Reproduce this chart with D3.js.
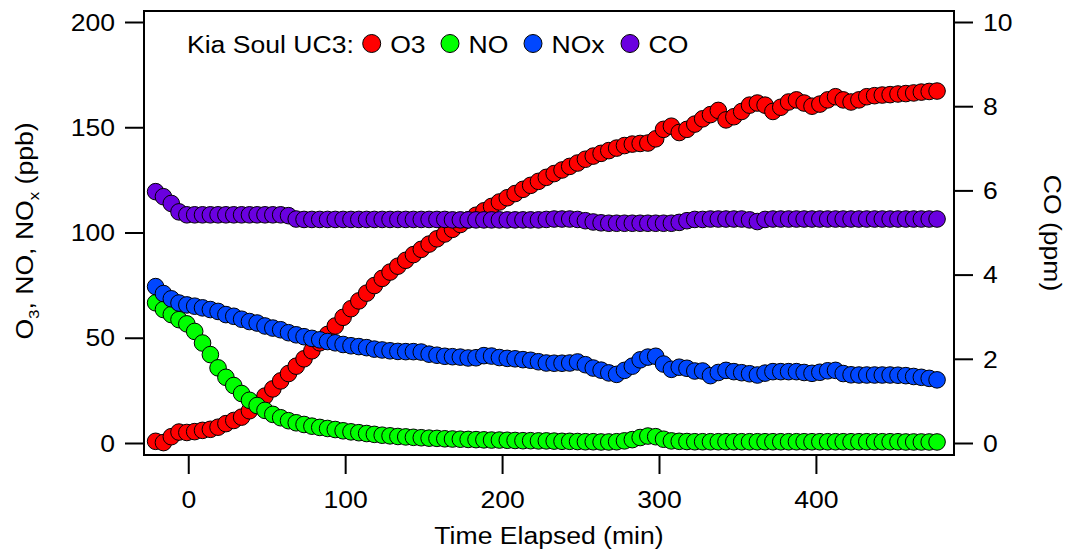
<!DOCTYPE html>
<html>
<head>
<meta charset="utf-8">
<script src="https://cdn.jsdelivr.net/npm/d3@7"></script>
<style>
  html, body { margin: 0; padding: 0; background: #fff; }
  svg { display: block; font-family: "Liberation Sans", Arial, sans-serif; }
</style>
</head>
<body>
<svg id="chart" width="1070" height="554"></svg>
<script>
// Elapsed time of each sample (min)
const timeMin = [
  -20.8, -15.8, -10.8, -5.9, -0.9, 4.1, 9.1, 14.1, 19.0, 24.0,
  29.0, 34.0, 39.0, 43.9, 48.9, 53.9, 58.9, 63.9, 68.8, 73.8,
  78.8, 83.8, 88.8, 93.7, 98.7, 103.7, 108.7, 113.7, 118.6, 123.6,
  128.6, 133.6, 138.6, 143.5, 148.5, 153.5, 158.5, 163.5, 168.4, 173.4,
  178.4, 183.4, 188.4, 193.3, 198.3, 203.3, 208.3, 213.3, 218.2, 223.2,
  228.2, 233.2, 238.2, 243.1, 248.1, 253.1, 258.1, 263.1, 268.0, 273.0,
  278.0, 283.0, 288.0, 292.9, 297.9, 302.9, 307.9, 312.9, 317.8, 322.8,
  327.8, 332.8, 337.8, 342.7, 347.7, 352.7, 357.7, 362.7, 367.6, 372.6,
  377.6, 382.6, 387.6, 392.5, 397.5, 402.5, 407.5, 412.5, 417.4, 422.4,
  427.4, 432.4, 437.4, 442.3, 447.3, 452.3, 457.3, 462.3, 467.2, 472.2,
  477.2
];

// O3 (ppb)
const o3 = [
  0.8, 0.2, 3.0, 5.2, 5.0, 5.4, 6.0, 6.5, 7.5, 9.2,
  10.7, 12.3, 15.3, 18.6, 22.3, 25.7, 29.5, 33.0, 36.5, 40.0,
  43.8, 47.6, 51.6, 55.6, 59.7, 63.8, 67.5, 71.2, 74.8, 78.2,
  81.2, 84.0, 86.8, 89.5, 92.0, 94.5, 97.0, 99.3, 101.5, 103.8,
  106.0, 108.2, 110.3, 112.4, 114.5, 116.5, 118.5, 120.5, 122.4, 124.3,
  126.2, 128.0, 129.7, 131.4, 133.0, 134.8, 136.3, 137.6, 138.9, 140.1,
  141.3, 142.0, 142.3, 142.5, 144.5, 149.0, 150.5, 147.5, 149.0, 151.5,
  154.0, 156.0, 158.0, 153.5, 155.0, 157.5, 160.5, 161.5, 160.5, 157.5,
  159.5, 162.0, 163.0, 161.5, 160.0, 161.0, 163.0, 164.5, 163.0, 162.0,
  163.0, 164.5, 165.0, 165.3, 165.5, 165.8, 166.0, 166.3, 166.7, 167.0,
  167.2
];

// NO (ppb)
const no = [
  66.6, 63.4, 61.0, 58.6, 56.6, 53.0, 47.5, 42.0, 35.7, 31.2,
  27.3, 23.5, 20.3, 17.8, 15.5, 13.6, 12.0, 10.6, 9.6, 8.8,
  8.0, 7.4, 6.9, 6.4, 5.8, 5.3, 4.9, 4.5, 4.1, 3.7,
  3.4, 3.1, 2.9, 2.7, 2.5, 2.3, 2.2, 2.0, 1.9, 1.8,
  1.7, 1.6, 1.5, 1.4, 1.4, 1.3, 1.2, 1.1, 1.1, 1.0,
  1.0, 0.9, 0.8, 0.8, 0.7, 0.6, 0.6, 0.5, 0.5, 0.6,
  1.0, 1.6, 2.6, 3.3, 3.0, 1.8, 1.0, 0.8, 0.7, 0.6,
  0.6, 0.6, 0.6, 0.6, 0.6, 0.6, 0.6, 0.6, 0.6, 0.6,
  0.6, 0.6, 0.6, 0.6, 0.6, 0.6, 0.6, 0.6, 0.6, 0.6,
  0.6, 0.6, 0.6, 0.6, 0.6, 0.6, 0.5, 0.5, 0.5, 0.5,
  0.5
];

// NOx (ppb)
const nox = [
  74.3, 71.0, 68.5, 66.5, 65.6, 65.0, 64.2, 63.4, 62.5, 61.0,
  60.2, 58.8, 57.7, 57.0, 55.6, 54.6, 53.8, 52.4, 51.4, 50.5,
  49.7, 49.0, 48.2, 47.6, 46.8, 46.2, 45.8, 45.3, 44.6, 44.2,
  43.8, 43.5, 43.4, 43.4, 43.2, 42.2, 41.7, 41.2, 41.0, 40.8,
  40.4, 40.5, 41.5, 41.3, 40.6, 40.2, 40.0, 39.6, 39.3, 38.6,
  38.0, 37.9, 37.9, 38.0, 38.5, 37.2, 35.6, 34.6, 33.3, 32.6,
  34.5, 36.5, 39.5, 40.8, 41.2, 37.5, 35.0, 36.0, 35.5, 34.2,
  34.2, 32.0, 33.5, 34.5, 33.9, 33.4, 32.9, 32.3, 33.2, 33.9,
  33.9, 33.9, 33.9, 33.5, 33.1, 33.6, 34.3, 34.5, 33.0, 32.4,
  32.3, 32.3, 32.3, 32.3, 32.3, 32.2, 32.0, 31.6, 31.2, 30.7,
  30.0
];

// CO (ppm, right axis)
const co = [
  5.97, 5.85, 5.69, 5.49, 5.42, 5.42, 5.42, 5.42, 5.42, 5.42,
  5.42, 5.42, 5.42, 5.42, 5.42, 5.42, 5.42, 5.40, 5.32, 5.31,
  5.31, 5.31, 5.31, 5.31, 5.31, 5.31, 5.31, 5.31, 5.31, 5.31,
  5.31, 5.31, 5.31, 5.31, 5.31, 5.31, 5.31, 5.31, 5.30, 5.30,
  5.30, 5.30, 5.30, 5.30, 5.30, 5.30, 5.30, 5.30, 5.30, 5.30,
  5.31, 5.32, 5.32, 5.32, 5.31, 5.28, 5.25, 5.23, 5.22, 5.22,
  5.22, 5.22, 5.22, 5.22, 5.22, 5.22, 5.22, 5.24, 5.28, 5.31,
  5.31, 5.32, 5.32, 5.32, 5.32, 5.32, 5.30, 5.26, 5.31, 5.32,
  5.32, 5.32, 5.32, 5.32, 5.32, 5.32, 5.32, 5.32, 5.32, 5.32,
  5.32, 5.32, 5.32, 5.32, 5.32, 5.32, 5.32, 5.32, 5.32, 5.32,
  5.32
];

const xTicks = [0, 100, 200, 300, 400];
const leftTicks = [0, 50, 100, 150, 200];
const rightTicks = [0, 2, 4, 6, 8, 10];
const legendTitle = "Kia Soul UC3:";
const seriesNames = ["O3", "NO", "NOx", "CO"];
const seriesColors = ["#ff0000", "#00ff00", "#0047ff", "#6a00e0"];

const svg = d3.select("#chart");
const FONT = 23.5;
const STRETCH = 1.13;

// Plot frame
const frame = { left: 144, right: 954, top: 11, bottom: 455 };

const x = d3.scaleLinear().domain([-28.2, 488]).range([frame.left, frame.right]);
const yL = d3.scaleLinear().domain([0, 200]).range([443, 22]);
const yR = d3.scaleLinear().domain([0, 10]).range([443, 22]);

// Markers: O3, NO, NOx on the left axis, CO on the right axis
const series = [
  { values: o3, scale: yL },
  { values: no, scale: yL },
  { values: nox, scale: yL },
  { values: co, scale: yR }
];

const plot = svg.append("g");
series.forEach((s, k) => {
  plot.append("g")
    .selectAll("circle")
    .data(timeMin.map((t, i) => [t, s.values[i]]))
    .join("circle")
    .attr("cx", d => x(d[0]))
    .attr("cy", d => s.scale(d[1]))
    .attr("r", 8.3)
    .attr("fill", seriesColors[k])
    .attr("stroke", "#000")
    .attr("stroke-width", 1);
});

svg.append("rect")
  .attr("x", frame.left).attr("y", frame.top)
  .attr("width", frame.right - frame.left)
  .attr("height", frame.bottom - frame.top)
  .attr("fill", "none").attr("stroke", "#000").attr("stroke-width", 2);

function styleAxis(g) {
  g.select(".domain").remove();
  g.selectAll(".tick line").attr("stroke", "#000").attr("stroke-width", 2);
  g.selectAll(".tick text").attr("fill", "#000")
    .attr("font-size", FONT).attr("font-family", "Liberation Sans, Arial, sans-serif");
}

svg.append("g")
  .attr("transform", `translate(${frame.left},0)`)
  .call(d3.axisLeft(yL).tickValues(leftTicks).tickSize(19).tickPadding(10))
  .call(styleAxis)
  .selectAll(".tick text").attr("dy", "0.35em");

svg.append("g")
  .attr("transform", `translate(${frame.right},0)`)
  .call(d3.axisRight(yR).tickValues(rightTicks).tickSize(19).tickPadding(10))
  .call(styleAxis)
  .selectAll(".tick text").attr("dy", "0.35em");

svg.append("g")
  .attr("transform", `translate(0,${frame.bottom})`)
  .call(d3.axisBottom(x).tickValues(xTicks).tickSize(19).tickPadding(17))
  .call(styleAxis);

// Axis titles
svg.append("text")
  .attr("x", 549).attr("y", 544)
  .attr("text-anchor", "middle")
  .attr("font-size", FONT)
  .text("Time Elapsed (min)");

const leftTitle = svg.append("text")
  .attr("transform", "translate(33,231) rotate(-90)")
  .attr("text-anchor", "middle")
  .attr("font-size", FONT);
leftTitle.append("tspan").text("O");
leftTitle.append("tspan").attr("font-size", 15).attr("dy", 6).text("3");
leftTitle.append("tspan").attr("dy", -6).text(", NO, NO");
leftTitle.append("tspan").attr("font-size", 15).attr("dy", 6).text("x");
leftTitle.append("tspan").attr("dy", -6).text(" (ppb)");

svg.append("text")
  .attr("transform", "translate(1044,233) rotate(90)")
  .attr("text-anchor", "middle")
  .attr("font-size", FONT)
  .text("CO (ppm)");

// Legend
const legend = svg.append("g");
legend.append("text")
  .attr("x", 187).attr("y", 52.5)
  .attr("font-size", FONT)
  .text(legendTitle);
const legendMarkX = [371.7, 450, 533, 630];
seriesNames.forEach((name, k) => {
  legend.append("circle")
    .attr("cx", legendMarkX[k]).attr("cy", 43.5).attr("r", 9)
    .attr("fill", seriesColors[k]).attr("stroke", "#000").attr("stroke-width", 1);
  legend.append("text")
    .attr("x", legendMarkX[k] + 18.5).attr("y", 52.5)
    .attr("font-size", FONT)
    .text(name);
});

// Widen glyphs slightly along the baseline
svg.selectAll("text").each(function () {
  const len = this.getComputedTextLength();
  d3.select(this).attr("textLength", len * STRETCH).attr("lengthAdjust", "spacingAndGlyphs");
});
</script>
</body>
</html>
